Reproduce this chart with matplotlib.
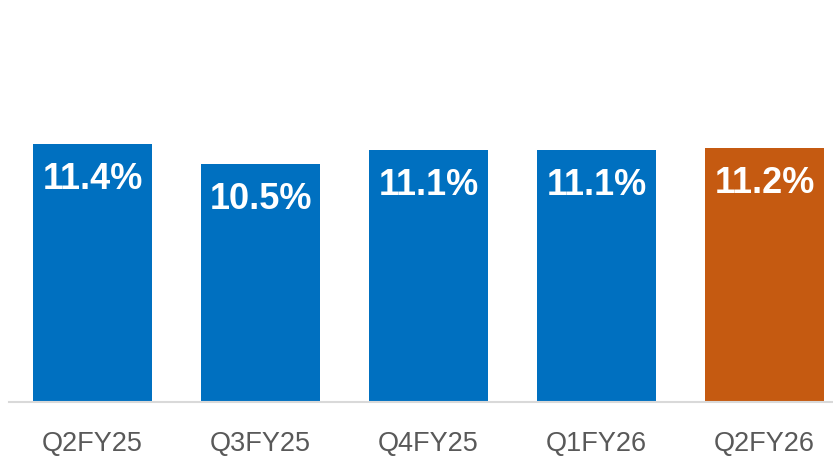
import matplotlib
matplotlib.use("Agg")
import matplotlib.pyplot as plt

categories = ["Q2FY25", "Q3FY25", "Q4FY25", "Q1FY26", "Q2FY26"]
values = [11.4, 10.5, 11.1, 11.1, 11.2]
labels = ["11.4%", "10.5%", "11.1%", "11.1%", "11.2%"]
colors = ["#0070C0", "#0070C0", "#0070C0", "#0070C0", "#C55A11"]

W, H = 833, 459
fig = plt.figure(figsize=(W / 100, H / 100), dpi=100)
left = 8.5 / W
bottom = (H - 401.5) / H
ax = fig.add_axes([left, bottom, 840 / W, 401.5 / H])

x = list(range(len(categories)))
ax.bar(x, values, width=0.708, color=colors, zorder=2)
ax.set_xlim(-0.5, len(categories) - 0.5)
ax.set_ylim(0, 401.5 / 22.63)

for xi, v, lab in zip(x, values, labels):
    ax.annotate(lab, (xi, v), xytext=(0, -18), textcoords="offset pixels",
                ha="center", va="top", color="white", fontsize=26,
                fontweight="bold", family="Liberation Sans")

for s in ["top", "right", "left"]:
    ax.spines[s].set_visible(False)
ax.spines["bottom"].set_color("#D9D9D9")
ax.spines["bottom"].set_linewidth(1.5)
ax.set_yticks([])
ax.set_xticks(x)
ax.set_xticklabels(categories, fontsize=19.5, color="#595959", family="Liberation Sans")
ax.tick_params(axis="x", length=0, pad=21)

fig.savefig("out.png", dpi=100)
